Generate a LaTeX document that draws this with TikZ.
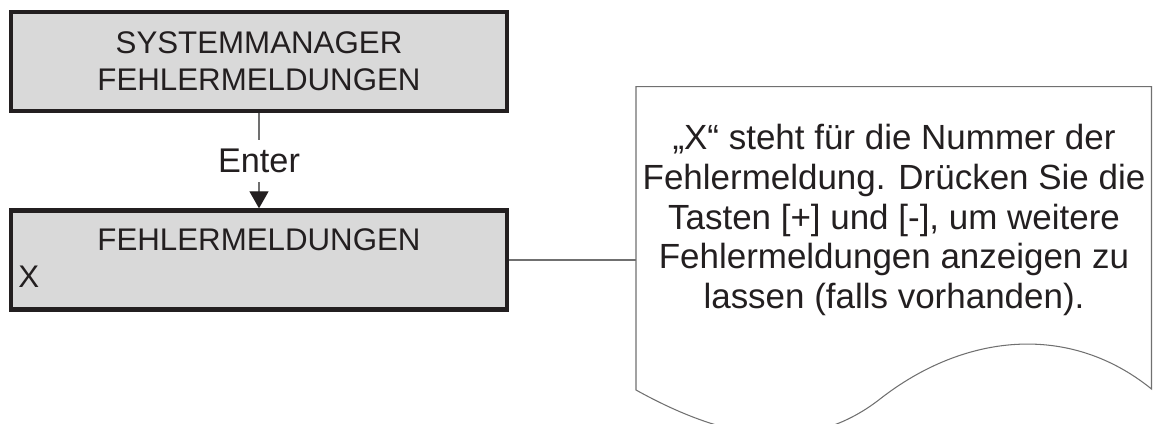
\documentclass[tikz,border=0pt]{standalone}
\usepackage{fontspec}
\setmainfont{Liberation Sans}
\usetikzlibrary{arrows.meta}

\definecolor{ink}{HTML}{231F20}
\definecolor{boxgray}{HTML}{D9D9D9}
\definecolor{wiregray}{HTML}{707070}

\tikzset{
  menubox/.style={draw=ink, fill=boxgray, line width=2.55pt, minimum width=9.92cm, minimum height=1.98cm, inner sep=0pt},
  boxtext/.style={text=ink, font=\fontsize{17.8}{21}\selectfont, inner sep=0pt},
  notetext/.style={text=ink, font=\fontsize{19.9}{22.7}\selectfont, align=center, inner sep=0pt},
  wire/.style={draw=wiregray, line width=0.6pt},
}

\begin{document}
\begin{tikzpicture}[x=0.02cm,y=-0.02cm]
\useasboundingbox (0,0) rectangle (1155,423);
%
\node[menubox] (manager) at (259,61.5) {};
\node[boxtext, align=center] (managertext) at (manager) {SYSTEMMANAGER\\FEHLERMELDUNGEN};
\node[menubox] (errors) at (259,260) {};
\node[boxtext, anchor=base] (errorstitle) at (259,250) {FEHLERMELDUNGEN};
\node[boxtext, anchor=base west] (errorsx) at (18,287) {X};
% Enter
\draw[wire, -{Triangle[length=9.6pt,width=10.8pt,color=ink]}] (manager) -- node[fill=white, inner xsep=2pt, inner ysep=5.2pt, text=ink, font=\fontsize{19.5}{22.7}\selectfont] (enter) {Enter} (errors);
% Hinweis
\coordinate (notewest) at (636,260);
\draw[wire] (errors) -- (notewest);
\draw[wire] (636,86.7) -- (636,390) to[out=-29,in=218] (880,399) to[out=38,in=141] (1151.5,389) -- (1151.5,86.7) -- cycle;
\node[notetext] (note) at (894,220) {„X“ steht für die Nummer der\\Fehlermeldung. Drücken Sie die\\Tasten [+] und [-], um weitere\\Fehlermeldungen anzeigen zu\\lassen (falls vorhanden).};
\end{tikzpicture}
\end{document}
